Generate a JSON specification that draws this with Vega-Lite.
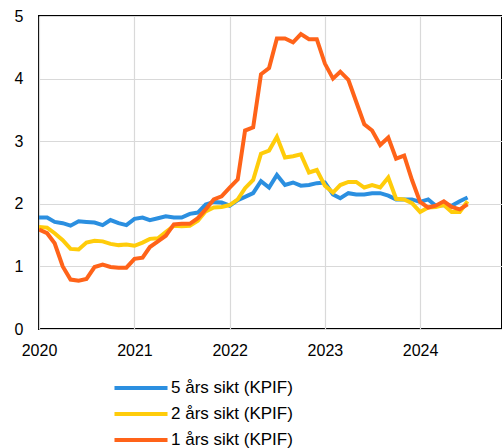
{
  "$schema": "https://vega.github.io/schema/vega-lite/v6.json",
  "autosize": {"type": "none"},
  "padding": {"left": 39, "top": 16, "right": 0, "bottom": 119},
  "width": 463,
  "height": 313,
  "config": {
    "view": {"stroke": "#000000", "strokeWidth": 2},
    "font": "Liberation Sans",
    "axis": {
      "domain": false,
      "ticks": false,
      "labelFont": "Liberation Sans",
      "labelFontSize": 16,
      "labelColor": "#000000",
      "gridColor": "#d9d9d9",
      "gridWidth": 1.2,
      "title": null
    },
    "legend": {
      "labelFont": "Liberation Sans",
      "labelFontSize": 17,
      "labelColor": "#000000"
    }
  },
  "data": {
    "values": [
      {"d": "2020-01-01", "s": "5 års sikt (KPIF)", "v": 1.78},
      {"d": "2020-02-01", "s": "5 års sikt (KPIF)", "v": 1.78},
      {"d": "2020-03-01", "s": "5 års sikt (KPIF)", "v": 1.71},
      {"d": "2020-04-01", "s": "5 års sikt (KPIF)", "v": 1.69},
      {"d": "2020-05-01", "s": "5 års sikt (KPIF)", "v": 1.65},
      {"d": "2020-06-01", "s": "5 års sikt (KPIF)", "v": 1.72},
      {"d": "2020-07-01", "s": "5 års sikt (KPIF)", "v": 1.71},
      {"d": "2020-08-01", "s": "5 års sikt (KPIF)", "v": 1.70},
      {"d": "2020-09-01", "s": "5 års sikt (KPIF)", "v": 1.66},
      {"d": "2020-10-01", "s": "5 års sikt (KPIF)", "v": 1.74},
      {"d": "2020-11-01", "s": "5 års sikt (KPIF)", "v": 1.69},
      {"d": "2020-12-01", "s": "5 års sikt (KPIF)", "v": 1.66},
      {"d": "2021-01-01", "s": "5 års sikt (KPIF)", "v": 1.76},
      {"d": "2021-02-01", "s": "5 års sikt (KPIF)", "v": 1.78},
      {"d": "2021-03-01", "s": "5 års sikt (KPIF)", "v": 1.74},
      {"d": "2021-04-01", "s": "5 års sikt (KPIF)", "v": 1.77},
      {"d": "2021-05-01", "s": "5 års sikt (KPIF)", "v": 1.80},
      {"d": "2021-06-01", "s": "5 års sikt (KPIF)", "v": 1.78},
      {"d": "2021-07-01", "s": "5 års sikt (KPIF)", "v": 1.78},
      {"d": "2021-08-01", "s": "5 års sikt (KPIF)", "v": 1.84},
      {"d": "2021-09-01", "s": "5 års sikt (KPIF)", "v": 1.86},
      {"d": "2021-10-01", "s": "5 års sikt (KPIF)", "v": 1.99},
      {"d": "2021-11-01", "s": "5 års sikt (KPIF)", "v": 2.03},
      {"d": "2021-12-01", "s": "5 års sikt (KPIF)", "v": 2.02},
      {"d": "2022-01-01", "s": "5 års sikt (KPIF)", "v": 1.97},
      {"d": "2022-02-01", "s": "5 års sikt (KPIF)", "v": 2.06},
      {"d": "2022-03-01", "s": "5 års sikt (KPIF)", "v": 2.11},
      {"d": "2022-04-01", "s": "5 års sikt (KPIF)", "v": 2.17},
      {"d": "2022-05-01", "s": "5 års sikt (KPIF)", "v": 2.36},
      {"d": "2022-06-01", "s": "5 års sikt (KPIF)", "v": 2.26},
      {"d": "2022-07-01", "s": "5 års sikt (KPIF)", "v": 2.46},
      {"d": "2022-08-01", "s": "5 års sikt (KPIF)", "v": 2.30},
      {"d": "2022-09-01", "s": "5 års sikt (KPIF)", "v": 2.34},
      {"d": "2022-10-01", "s": "5 års sikt (KPIF)", "v": 2.29},
      {"d": "2022-11-01", "s": "5 års sikt (KPIF)", "v": 2.30},
      {"d": "2022-12-01", "s": "5 års sikt (KPIF)", "v": 2.33},
      {"d": "2023-01-01", "s": "5 års sikt (KPIF)", "v": 2.34},
      {"d": "2023-02-01", "s": "5 års sikt (KPIF)", "v": 2.15},
      {"d": "2023-03-01", "s": "5 års sikt (KPIF)", "v": 2.09},
      {"d": "2023-04-01", "s": "5 års sikt (KPIF)", "v": 2.17},
      {"d": "2023-05-01", "s": "5 års sikt (KPIF)", "v": 2.15},
      {"d": "2023-06-01", "s": "5 års sikt (KPIF)", "v": 2.15},
      {"d": "2023-07-01", "s": "5 års sikt (KPIF)", "v": 2.17},
      {"d": "2023-08-01", "s": "5 års sikt (KPIF)", "v": 2.17},
      {"d": "2023-09-01", "s": "5 års sikt (KPIF)", "v": 2.13},
      {"d": "2023-10-01", "s": "5 års sikt (KPIF)", "v": 2.07},
      {"d": "2023-11-01", "s": "5 års sikt (KPIF)", "v": 2.07},
      {"d": "2023-12-01", "s": "5 års sikt (KPIF)", "v": 2.07},
      {"d": "2024-01-01", "s": "5 års sikt (KPIF)", "v": 2.03},
      {"d": "2024-02-01", "s": "5 års sikt (KPIF)", "v": 2.07},
      {"d": "2024-03-01", "s": "5 års sikt (KPIF)", "v": 1.97},
      {"d": "2024-04-01", "s": "5 års sikt (KPIF)", "v": 1.98},
      {"d": "2024-05-01", "s": "5 års sikt (KPIF)", "v": 1.97},
      {"d": "2024-06-01", "s": "5 års sikt (KPIF)", "v": 2.04},
      {"d": "2024-07-01", "s": "5 års sikt (KPIF)", "v": 2.10},
      {"d": "2020-01-01", "s": "2 års sikt (KPIF)", "v": 1.63},
      {"d": "2020-02-01", "s": "2 års sikt (KPIF)", "v": 1.62},
      {"d": "2020-03-01", "s": "2 års sikt (KPIF)", "v": 1.53},
      {"d": "2020-04-01", "s": "2 års sikt (KPIF)", "v": 1.42},
      {"d": "2020-05-01", "s": "2 års sikt (KPIF)", "v": 1.28},
      {"d": "2020-06-01", "s": "2 års sikt (KPIF)", "v": 1.27},
      {"d": "2020-07-01", "s": "2 års sikt (KPIF)", "v": 1.38},
      {"d": "2020-08-01", "s": "2 års sikt (KPIF)", "v": 1.41},
      {"d": "2020-09-01", "s": "2 års sikt (KPIF)", "v": 1.40},
      {"d": "2020-10-01", "s": "2 års sikt (KPIF)", "v": 1.36},
      {"d": "2020-11-01", "s": "2 års sikt (KPIF)", "v": 1.34},
      {"d": "2020-12-01", "s": "2 års sikt (KPIF)", "v": 1.35},
      {"d": "2021-01-01", "s": "2 års sikt (KPIF)", "v": 1.33},
      {"d": "2021-02-01", "s": "2 års sikt (KPIF)", "v": 1.38},
      {"d": "2021-03-01", "s": "2 års sikt (KPIF)", "v": 1.44},
      {"d": "2021-04-01", "s": "2 års sikt (KPIF)", "v": 1.45},
      {"d": "2021-05-01", "s": "2 års sikt (KPIF)", "v": 1.55},
      {"d": "2021-06-01", "s": "2 års sikt (KPIF)", "v": 1.65},
      {"d": "2021-07-01", "s": "2 års sikt (KPIF)", "v": 1.64},
      {"d": "2021-08-01", "s": "2 års sikt (KPIF)", "v": 1.65},
      {"d": "2021-09-01", "s": "2 års sikt (KPIF)", "v": 1.73},
      {"d": "2021-10-01", "s": "2 års sikt (KPIF)", "v": 1.88},
      {"d": "2021-11-01", "s": "2 års sikt (KPIF)", "v": 1.94},
      {"d": "2021-12-01", "s": "2 års sikt (KPIF)", "v": 1.95},
      {"d": "2022-01-01", "s": "2 års sikt (KPIF)", "v": 1.98},
      {"d": "2022-02-01", "s": "2 års sikt (KPIF)", "v": 2.07},
      {"d": "2022-03-01", "s": "2 års sikt (KPIF)", "v": 2.25},
      {"d": "2022-04-01", "s": "2 års sikt (KPIF)", "v": 2.38},
      {"d": "2022-05-01", "s": "2 års sikt (KPIF)", "v": 2.80},
      {"d": "2022-06-01", "s": "2 års sikt (KPIF)", "v": 2.85},
      {"d": "2022-07-01", "s": "2 års sikt (KPIF)", "v": 3.07},
      {"d": "2022-08-01", "s": "2 års sikt (KPIF)", "v": 2.74},
      {"d": "2022-09-01", "s": "2 års sikt (KPIF)", "v": 2.76},
      {"d": "2022-10-01", "s": "2 års sikt (KPIF)", "v": 2.79},
      {"d": "2022-11-01", "s": "2 års sikt (KPIF)", "v": 2.50},
      {"d": "2022-12-01", "s": "2 års sikt (KPIF)", "v": 2.54},
      {"d": "2023-01-01", "s": "2 års sikt (KPIF)", "v": 2.29},
      {"d": "2023-02-01", "s": "2 års sikt (KPIF)", "v": 2.18},
      {"d": "2023-03-01", "s": "2 års sikt (KPIF)", "v": 2.30},
      {"d": "2023-04-01", "s": "2 års sikt (KPIF)", "v": 2.35},
      {"d": "2023-05-01", "s": "2 års sikt (KPIF)", "v": 2.35},
      {"d": "2023-06-01", "s": "2 års sikt (KPIF)", "v": 2.26},
      {"d": "2023-07-01", "s": "2 års sikt (KPIF)", "v": 2.30},
      {"d": "2023-08-01", "s": "2 års sikt (KPIF)", "v": 2.26},
      {"d": "2023-09-01", "s": "2 års sikt (KPIF)", "v": 2.42},
      {"d": "2023-10-01", "s": "2 års sikt (KPIF)", "v": 2.08},
      {"d": "2023-11-01", "s": "2 års sikt (KPIF)", "v": 2.07},
      {"d": "2023-12-01", "s": "2 års sikt (KPIF)", "v": 2.01},
      {"d": "2024-01-01", "s": "2 års sikt (KPIF)", "v": 1.87},
      {"d": "2024-02-01", "s": "2 års sikt (KPIF)", "v": 1.94},
      {"d": "2024-03-01", "s": "2 års sikt (KPIF)", "v": 1.95},
      {"d": "2024-04-01", "s": "2 års sikt (KPIF)", "v": 1.98},
      {"d": "2024-05-01", "s": "2 års sikt (KPIF)", "v": 1.87},
      {"d": "2024-06-01", "s": "2 års sikt (KPIF)", "v": 1.87},
      {"d": "2024-07-01", "s": "2 års sikt (KPIF)", "v": 2.04},
      {"d": "2020-01-01", "s": "1 års sikt (KPIF)", "v": 1.59},
      {"d": "2020-02-01", "s": "1 års sikt (KPIF)", "v": 1.53},
      {"d": "2020-03-01", "s": "1 års sikt (KPIF)", "v": 1.37},
      {"d": "2020-04-01", "s": "1 års sikt (KPIF)", "v": 1.00},
      {"d": "2020-05-01", "s": "1 års sikt (KPIF)", "v": 0.79},
      {"d": "2020-06-01", "s": "1 års sikt (KPIF)", "v": 0.77},
      {"d": "2020-07-01", "s": "1 års sikt (KPIF)", "v": 0.80},
      {"d": "2020-08-01", "s": "1 års sikt (KPIF)", "v": 0.99},
      {"d": "2020-09-01", "s": "1 års sikt (KPIF)", "v": 1.03},
      {"d": "2020-10-01", "s": "1 års sikt (KPIF)", "v": 0.99},
      {"d": "2020-11-01", "s": "1 års sikt (KPIF)", "v": 0.98},
      {"d": "2020-12-01", "s": "1 års sikt (KPIF)", "v": 0.98},
      {"d": "2021-01-01", "s": "1 års sikt (KPIF)", "v": 1.12},
      {"d": "2021-02-01", "s": "1 års sikt (KPIF)", "v": 1.14},
      {"d": "2021-03-01", "s": "1 års sikt (KPIF)", "v": 1.31},
      {"d": "2021-04-01", "s": "1 års sikt (KPIF)", "v": 1.40},
      {"d": "2021-05-01", "s": "1 års sikt (KPIF)", "v": 1.49},
      {"d": "2021-06-01", "s": "1 års sikt (KPIF)", "v": 1.67},
      {"d": "2021-07-01", "s": "1 års sikt (KPIF)", "v": 1.68},
      {"d": "2021-08-01", "s": "1 års sikt (KPIF)", "v": 1.68},
      {"d": "2021-09-01", "s": "1 års sikt (KPIF)", "v": 1.77},
      {"d": "2021-10-01", "s": "1 års sikt (KPIF)", "v": 1.91},
      {"d": "2021-11-01", "s": "1 års sikt (KPIF)", "v": 2.07},
      {"d": "2021-12-01", "s": "1 års sikt (KPIF)", "v": 2.12},
      {"d": "2022-01-01", "s": "1 års sikt (KPIF)", "v": 2.26},
      {"d": "2022-02-01", "s": "1 års sikt (KPIF)", "v": 2.39},
      {"d": "2022-03-01", "s": "1 års sikt (KPIF)", "v": 3.17},
      {"d": "2022-04-01", "s": "1 års sikt (KPIF)", "v": 3.22},
      {"d": "2022-05-01", "s": "1 års sikt (KPIF)", "v": 4.07},
      {"d": "2022-06-01", "s": "1 års sikt (KPIF)", "v": 4.17},
      {"d": "2022-07-01", "s": "1 års sikt (KPIF)", "v": 4.64},
      {"d": "2022-08-01", "s": "1 års sikt (KPIF)", "v": 4.64},
      {"d": "2022-09-01", "s": "1 års sikt (KPIF)", "v": 4.58},
      {"d": "2022-10-01", "s": "1 års sikt (KPIF)", "v": 4.71},
      {"d": "2022-11-01", "s": "1 års sikt (KPIF)", "v": 4.63},
      {"d": "2022-12-01", "s": "1 års sikt (KPIF)", "v": 4.63},
      {"d": "2023-01-01", "s": "1 års sikt (KPIF)", "v": 4.24},
      {"d": "2023-02-01", "s": "1 års sikt (KPIF)", "v": 4.00},
      {"d": "2023-03-01", "s": "1 års sikt (KPIF)", "v": 4.11},
      {"d": "2023-04-01", "s": "1 års sikt (KPIF)", "v": 3.98},
      {"d": "2023-05-01", "s": "1 års sikt (KPIF)", "v": 3.63},
      {"d": "2023-06-01", "s": "1 års sikt (KPIF)", "v": 3.27},
      {"d": "2023-07-01", "s": "1 års sikt (KPIF)", "v": 3.17},
      {"d": "2023-08-01", "s": "1 års sikt (KPIF)", "v": 2.94},
      {"d": "2023-09-01", "s": "1 års sikt (KPIF)", "v": 3.06},
      {"d": "2023-10-01", "s": "1 års sikt (KPIF)", "v": 2.72},
      {"d": "2023-11-01", "s": "1 års sikt (KPIF)", "v": 2.77},
      {"d": "2023-12-01", "s": "1 års sikt (KPIF)", "v": 2.38},
      {"d": "2024-01-01", "s": "1 års sikt (KPIF)", "v": 2.03},
      {"d": "2024-02-01", "s": "1 års sikt (KPIF)", "v": 1.94},
      {"d": "2024-03-01", "s": "1 års sikt (KPIF)", "v": 1.97},
      {"d": "2024-04-01", "s": "1 års sikt (KPIF)", "v": 2.04},
      {"d": "2024-05-01", "s": "1 års sikt (KPIF)", "v": 1.95},
      {"d": "2024-06-01", "s": "1 års sikt (KPIF)", "v": 1.91},
      {"d": "2024-07-01", "s": "1 års sikt (KPIF)", "v": 1.99}
    ]
  },
  "mark": {"type": "line", "strokeWidth": 4, "strokeJoin": "miter", "clip": true},
  "encoding": {
    "x": {
      "field": "d",
      "type": "temporal",
      "scale": {
        "type": "utc",
        "domain": [
          {"year": 2020, "month": 1, "date": 1, "utc": true},
          {"year": 2024, "month": 11, "date": 10, "utc": true}
        ],
        "nice": false
      },
      "axis": {
        "format": "%Y",
        "formatType": "utc",
        "tickCount": {"interval": "year", "step": 1},
        "labelPadding": 13,
        "labelFlush": false,
        "labelOverlap": false
      }
    },
    "y": {
      "field": "v",
      "type": "quantitative",
      "scale": {"domain": [0, 5], "nice": false, "zero": true},
      "axis": {
        "values": [1, 2, 3, 4, 5, 0],
        "labelPadding": 16
      }
    },
    "color": {
      "field": "s",
      "type": "nominal",
      "sort": null,
      "scale": {
        "domain": ["5 års sikt (KPIF)", "2 års sikt (KPIF)", "1 års sikt (KPIF)"],
        "range": ["#2b8fe0", "#ffcc0a", "#ff6319"]
      },
      "legend": {
        "title": null,
        "orient": "none",
        "legendX": 89,
        "legendY": 359,
        "direction": "vertical",
        "symbolType": "M-2.5,0H2.5",
        "symbolSize": 450,
        "symbolStrokeWidth": 4,
        "labelOffset": 17,
        "rowPadding": 5
      }
    }
  }
}
